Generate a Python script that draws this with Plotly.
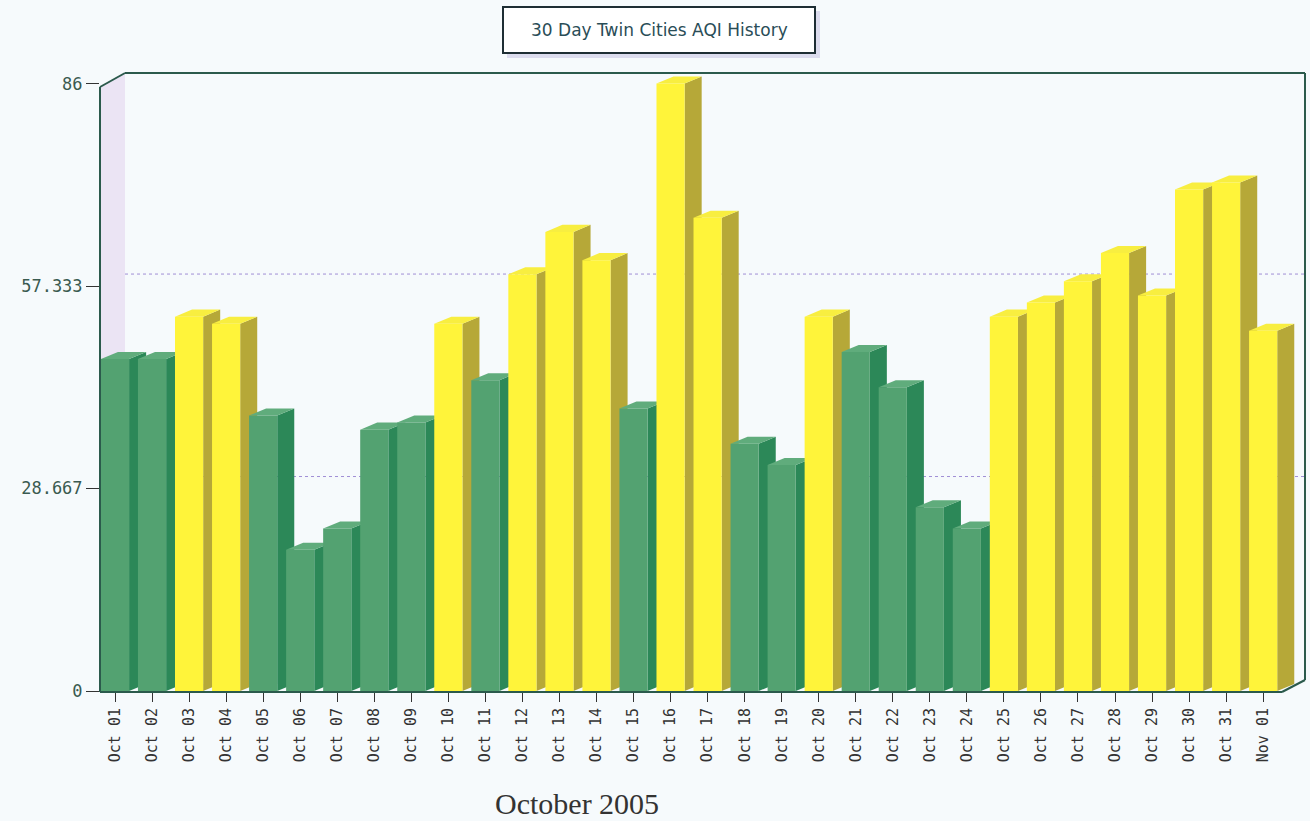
import plotly.graph_objects as go

# ---- data ----
dates = ["Oct 01", "Oct 02", "Oct 03", "Oct 04", "Oct 05", "Oct 06", "Oct 07", "Oct 08",
         "Oct 09", "Oct 10", "Oct 11", "Oct 12", "Oct 13", "Oct 14", "Oct 15", "Oct 16",
         "Oct 17", "Oct 18", "Oct 19", "Oct 20", "Oct 21", "Oct 22", "Oct 23", "Oct 24",
         "Oct 25", "Oct 26", "Oct 27", "Oct 28", "Oct 29", "Oct 30", "Oct 31", "Nov 01"]
aqi = [47, 47, 53, 52, 39, 20, 23, 37, 38, 52, 44, 59, 65, 61, 40, 86,
       67, 35, 32, 53, 48, 43, 26, 23, 53, 55, 58, 62, 56, 71, 72, 51]
y_ticks = [0, 28.667, 57.333, 86]
y_ticktext = ["0", "28.667", "57.333", "86"]
good_limit = 50

# ---- styling ----
GREEN_FRONT, GREEN_SIDE, GREEN_TOP = "#53a271", "#2c8858", "#60ac7c"
YEL_FRONT, YEL_SIDE, YEL_TOP = "#fff43a", "#b6a838", "#f8ee40"
BG = "#f6fafc"
FRAME = "#2b5a4c"

W_FRONT = 0.76
DX = 0.46   # depth in category units
DY = 1.0    # depth in value units

xs = list(range(len(dates)))
is_good = [v <= good_limit for v in aqi]
front_colors = [GREEN_FRONT if g else YEL_FRONT for g in is_good]

fig = go.Figure()
fig.add_trace(go.Bar(x=xs, y=aqi, width=W_FRONT, marker=dict(color=front_colors, line=dict(width=0)),
                     hoverinfo="x+y", showlegend=False))

# ---- layout geometry (pixels -> paper) ----
L, R, T, B = 100, 1305, 73, 691
PW, PH = R - L, B - T


def px(x):
    return (x - L) / PW


def py(y):
    return (B - y) / PH


shapes = []
# left wall
shapes.append(dict(type="path", xref="paper", yref="paper", layer="below",
                   path=f"M {px(100)},{py(87)} L {px(125)},{py(73)} L {px(125)},{py(680)} L {px(100)},{py(692)} Z",
                   fillcolor="#ebe4f4", line=dict(width=0)))
# back-wall gridlines
for v in y_ticks[1:-1]:
    shapes.append(dict(type="line", xref="paper", yref="y", layer="below",
                       x0=px(125), x1=1, y0=v + 1.7, y1=v + 1.7,
                       line=dict(color="#a08fd6", width=1, dash="dot")))

# 3-D side and top faces of each bar (computed from the data, drawn beneath the front faces)
for x, v, g in zip(xs, aqi, is_good):
    xl, xr = x - W_FRONT / 2, x + W_FRONT / 2
    side_c = GREEN_SIDE if g else YEL_SIDE
    top_c = GREEN_TOP if g else YEL_TOP
    shapes.append(dict(type="path", xref="x", yref="y", layer="below",
                       path=f"M {xr},0 L {xr + DX},{DY} L {xr + DX},{v + DY} L {xr},{v} Z",
                       fillcolor=side_c, line=dict(width=0)))
    shapes.append(dict(type="path", xref="x", yref="y", layer="below",
                       path=f"M {xl},{v} L {xr},{v} L {xr + DX},{v + DY} L {xl + DX},{v + DY} Z",
                       fillcolor=top_c, line=dict(width=0)))

# frame
frame_pts = [((100, 87), (100, 692)), ((100, 87), (125, 73)), ((125, 73), (1305, 73)),
             ((1305, 73), (1305, 680)), ((100, 692), (1282, 692)), ((1282, 692), (1305, 680))]
for (a, b) in frame_pts:
    shapes.append(dict(type="line", xref="paper", yref="paper", layer="above",
                       x0=px(a[0]), y0=py(a[1]), x1=px(b[0]), y1=py(b[1]),
                       line=dict(color=FRAME, width=2)))
# title box shadow + box
shapes.append(dict(type="rect", xref="paper", yref="paper", x0=px(507), y0=py(11), x1=px(820), y1=py(58),
                   fillcolor="#dcdcee", line=dict(width=0)))
shapes.append(dict(type="rect", xref="paper", yref="paper", x0=px(503), y0=py(7), x1=px(815), y1=py(53),
                   fillcolor="white", line=dict(color="#1e2e34", width=2)))

annotations = [
    dict(text="30 Day Twin Cities AQI History", xref="paper", yref="paper", x=px(659), y=py(30),
         xanchor="center", yanchor="middle",
         showarrow=False, font=dict(family="DejaVu Sans", size=17, color="#2a4d57")),
    dict(text="October 2005", xref="paper", yref="paper", x=px(577), y=py(803),
         xanchor="center", yanchor="middle",
         showarrow=False, font=dict(family="Liberation Serif", size=30, color="#333333")),
]

fig.update_layout(
    width=1310, height=821,
    margin=dict(l=L, r=1310 - R, t=T, b=821 - B),
    paper_bgcolor=BG, plot_bgcolor=BG,
    shapes=shapes, annotations=annotations,
    showlegend=False,
    xaxis=dict(range=[-0.405, 32.13], tickmode="array", tickvals=xs, ticktext=dates,
               tickangle=-90, ticks="outside", ticklen=10, tickcolor="#333333", tickwidth=1,
               tickfont=dict(family="DejaVu Sans Mono", size=15, color="#333333"),
               showgrid=False, zeroline=False, showline=False),
    yaxis=dict(range=[0, 87.5], tickmode="array", tickvals=y_ticks, ticktext=y_ticktext,
               ticks="outside", ticklen=13, tickcolor="#333333", tickwidth=1,
               tickfont=dict(family="DejaVu Sans Mono", size=17, color="#3a5a50"),
               showgrid=False, zeroline=False, showline=False),
)

fig.write_html("out.html")
